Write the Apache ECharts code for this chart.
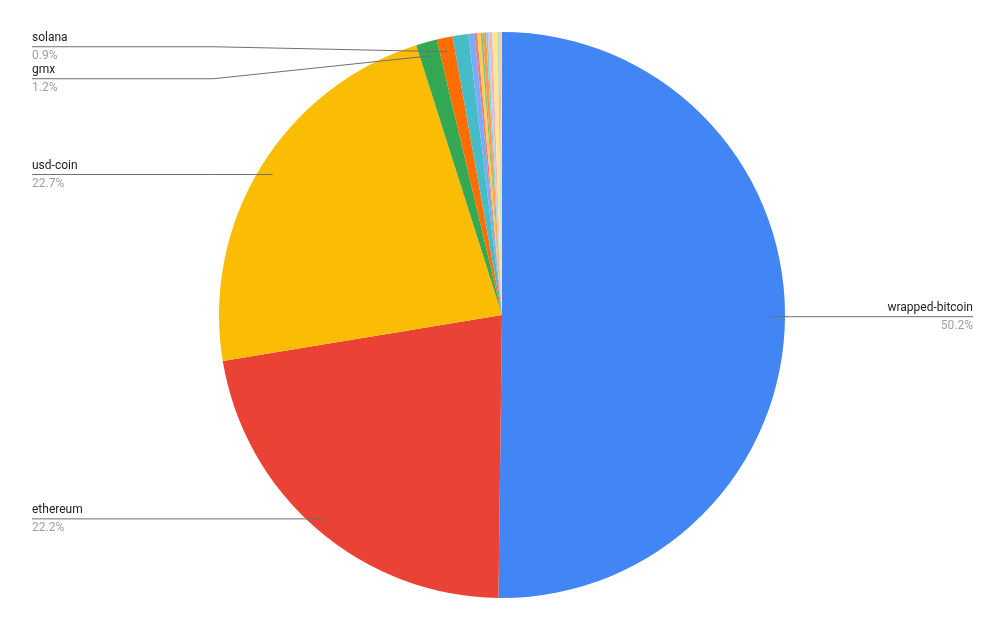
<!DOCTYPE html>
<html>
<head>
<meta charset="utf-8">
<script src="https://cdn.jsdelivr.net/npm/echarts@6/dist/echarts.min.js"></script>
<style>
  html, body { margin: 0; padding: 0; background: #fff; }
  #chart { width: 1005px; height: 629px; }
</style>
</head>
<body>
<div id="chart"></div>
<script>
// slices, clockwise from 12 o'clock (values in percent of total)
const names = ['wrapped-bitcoin', 'ethereum', 'usd-coin', 'gmx', 'solana',
  'token-6', 'token-7', 'token-8', 'token-9', 'token-10', 'token-11', 'token-12',
  'token-13', 'token-14', 'token-15', 'token-16', 'token-17', 'token-18']
const values = [50.2, 22.2, 22.7, 1.2, 0.9,
  0.9, 0.35, 0.15, 0.2, 0.1, 0.2, 0.1,
  0.1, 0.15, 0.3, 0.1, 0.1, 0.05]
const colors = ['#4285f4', '#ea4335', '#fbbc04', '#34a853', '#ff6d01',
  '#46bdc6', '#7baaf7', '#f07b72', '#fcd04f', '#71c287', '#ff994d', '#7ed1d7',
  '#b3cefb', '#f7b4ae', '#fde49b', '#aedcba', '#ffc599', '#b5e8eb']
const labelled = ['wrapped-bitcoin', 'ethereum', 'usd-coin', 'gmx', 'solana']

const cx = 502, cy = 315, radius = 283

const chart = echarts.init(document.getElementById('chart'))

const pieData = names.map((n, i) => ({ name: n, value: values[i], itemStyle: { color: colors[i] } }))
const labelData = names.map((n, i) => ({
  name: n, value: values[i],
  label: { show: labelled.indexOf(n) >= 0 },
  labelLine: { show: labelled.indexOf(n) >= 0 }
}))

const option = {
  animation: false,
  textStyle: { fontFamily: 'Roboto' },
  series: [
    {
      type: 'pie',
      center: [cx, cy],
      radius: radius,
      startAngle: 90,
      clockwise: true,
      silent: true,
      z: 2,
      label: { show: false },
      labelLine: { show: false },
      data: pieData
    },
    {
      // transparent copy that only carries the labels, starting inside the slices
      type: 'pie',
      center: [cx, cy],
      radius: radius * 0.95,
      startAngle: 90,
      clockwise: true,
      silent: true,
      z: 5,
      percentPrecision: 1,
      itemStyle: { color: 'rgba(0,0,0,0)' },
      label: {
        position: 'outer',
        alignTo: 'edge',
        edgeDistance: 32,
        formatter: '{n|{b}}\n{p|{d}%}',
        rich: {
          n: { fontFamily: 'Roboto', fontSize: 12, color: '#222', lineHeight: 18 },
          p: { fontFamily: 'Roboto', fontSize: 12, color: '#9e9e9e', lineHeight: 18 }
        }
      },
      labelLine: {
        length: 0,
        length2: 10,
        lineStyle: { color: '#6f6f6f', width: 1 }
      },
      labelLayout: function (p) {
        const pts = p.labelLinePoints
        if (!pts) return {}
        const r = p.labelRect
        const left = r.x + r.width / 2 < cx
        // labels of the thin slices are stacked and sit a little higher in the original
        const crowded = values[p.dataIndex] < 5
        const dy = crowded ? -5 : 0
        const y = r.y + r.height / 2 + dy
        const bend = left ? cx - radius * 1.02 : cx + radius * 1.02
        const edge = left ? r.x : r.x + r.width
        const start = crowded ? pts[0] : [pts[0][0], y]
        return { dy: dy, labelLinePoints: [start, [bend, y], [edge, y]] }
      },
      data: labelData
    }
  ]
}

chart.setOption(option)
</script>
</body>
</html>
